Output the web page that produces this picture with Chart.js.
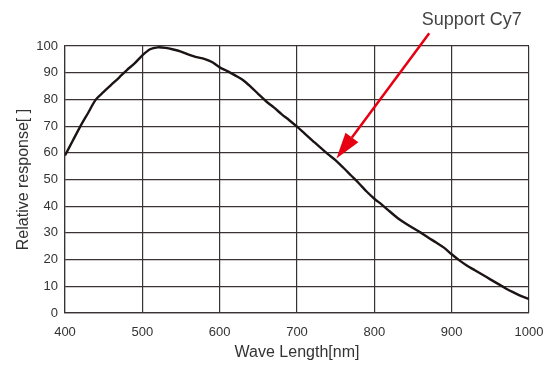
<!DOCTYPE html>
<html>
<head>
<meta charset="utf-8">
<script src="https://cdn.jsdelivr.net/npm/chart.js@4/dist/chart.umd.min.js"></script>
<style>
  html, body { margin: 0; padding: 0; background: #fff; }
  #wrap { width: 560px; height: 365px; }
</style>
</head>
<body>
<div id="wrap"><canvas id="c"></canvas></div>
<script>
// spectral response
const wavelengths = [400, 410, 420, 430, 440, 450, 460, 470, 480, 490,
  500, 510, 520, 530, 540, 550, 560, 570, 580, 590,
  600, 610, 620, 630, 640, 650, 660, 670, 680, 690,
  700, 710, 720, 730, 740, 750, 760, 770, 780, 790,
  800, 810, 820, 830, 840, 850, 860, 870, 880, 890,
  900, 910, 920, 930, 940, 950, 960, 970, 980, 990, 1000];
const response = [59, 64.5, 70, 75, 80, 82.8, 85.5, 88.2, 91, 93.5,
  96.5, 98.8, 99.5, 99.3, 98.7, 97.9, 96.8, 95.8, 95.2, 94,
  92, 90.6, 89, 87.3, 84.8, 82, 79.3, 77, 74.5, 72.2,
  69.8, 67.2, 64.6, 62, 59.5, 57.2, 54.4, 51.5, 48.6, 45.5,
  42.8, 40.5, 38, 35.6, 33.6, 31.8, 30.1, 28.2, 26.4, 24.5,
  22, 19.7, 17.7, 16, 14.3, 12.6, 10.9, 9.2, 7.7, 6.3, 5.2];

const annotationText = 'Support Cy7';
const arrowFrom = [871, 104.8];   // nm, value
const arrowTo = [751, 57.9];
const textAt = [926, 109.8];

const gridColor = '#3a3232';
const fontFamily = '"Liberation Sans", Arial, sans-serif';

const arrowPlugin = {
  id: 'arrow',
  afterDraw(chart) {
    const ctx = chart.ctx;
    const xs = chart.scales.x, ys = chart.scales.y;
    const x1 = xs.getPixelForValue(arrowFrom[0]), y1 = ys.getPixelForValue(arrowFrom[1]);
    const x2 = xs.getPixelForValue(arrowTo[0]), y2 = ys.getPixelForValue(arrowTo[1]);
    const ang = Math.atan2(y2 - y1, x2 - x1);
    const headLen = 26, headW = 8;
    const bx = x2 - headLen * Math.cos(ang), by = y2 - headLen * Math.sin(ang);
    ctx.save();
    ctx.strokeStyle = '#e60012';
    ctx.fillStyle = '#e60012';
    ctx.lineWidth = 2.5;
    ctx.beginPath();
    ctx.moveTo(x1, y1);
    ctx.lineTo(bx, by);
    ctx.stroke();
    ctx.beginPath();
    ctx.moveTo(x2, y2);
    ctx.lineTo(bx + headW * Math.sin(ang), by - headW * Math.cos(ang));
    ctx.lineTo(bx - headW * Math.sin(ang), by + headW * Math.cos(ang));
    ctx.closePath();
    ctx.fill();
    ctx.fillStyle = '#444';
    ctx.font = '18px ' + fontFamily;
    ctx.textAlign = 'center';
    ctx.textBaseline = 'middle';
    ctx.fillText(annotationText, xs.getPixelForValue(textAt[0]), ys.getPixelForValue(textAt[1]));
    ctx.restore();
  }
};

new Chart(document.getElementById('c'), {
  type: 'line',
  data: {
    datasets: [{
      data: wavelengths.map((w, i) => ({ x: w, y: response[i] })),
      borderColor: '#1c1414',
      borderWidth: 2.4,
      pointRadius: 0,
      tension: 0.3,
      fill: false
    }]
  },
  options: {
    responsive: true,
    maintainAspectRatio: false,
    animation: false,
    layout: { padding: { left: 0, right: 31, top: 46, bottom: 0 } },
    plugins: { legend: { display: false }, tooltip: { enabled: false } },
    scales: {
      x: {
        type: 'linear',
        min: 400,
        max: 1000,
        afterFit(scale) { scale.height = 52; },
        ticks: { stepSize: 100, color: '#333', padding: 12, maxRotation: 0,
          callback: v => String(v),
          font: { family: fontFamily, size: 13 } },
        grid: { color: gridColor, lineWidth: 1.2, drawTicks: false },
        border: { color: gridColor, width: 1.2 },
        title: { display: true, text: 'Wave Length[nm]', color: '#333',
          padding: { top: 0, bottom: 3 },
          font: { family: fontFamily, size: 16 } }
      },
      y: {
        min: 0,
        max: 100,
        afterFit(scale) { scale.width = 65; },
        ticks: { stepSize: 10, color: '#333', padding: 7,
          callback: v => String(v),
          font: { family: fontFamily, size: 13 } },
        grid: { color: gridColor, lineWidth: 1.2, drawTicks: false },
        border: { color: gridColor, width: 1.2 },
        title: { display: true, text: 'Relative response[ ]', color: '#333',
          padding: { top: 14, bottom: 0 },
          font: { family: fontFamily, size: 16 } }
      }
    }
  },
  plugins: [arrowPlugin]
});
</script>
</body>
</html>
